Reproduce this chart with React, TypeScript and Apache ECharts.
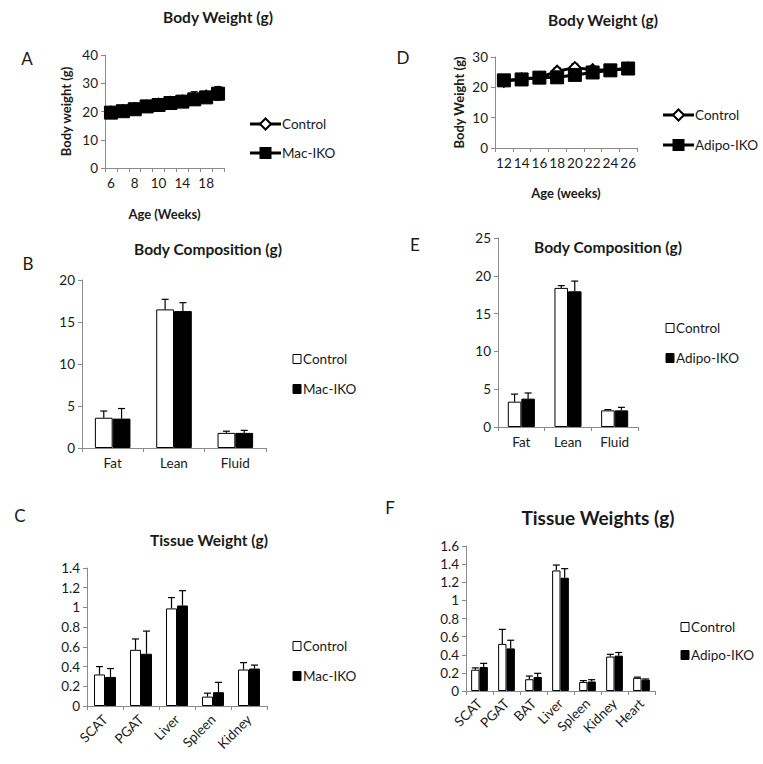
import React, { useEffect, useRef } from "react";
import * as echarts from "echarts";

// ---- Panel A: Body weight, Mac-IKO ----
const weeksA = ["6", "7", "8", "9", "10", "12", "14", "16", "18", "20"];
const ctrlA = [19.8, 20.3, 21.0, 21.9, 22.6, 23.2, 23.7, 24.8, 25.4, 26.8];
const ctrlAErr = [1.0, 1.0, 1.2, 1.2, 1.6, 1.3, 1.2, 2.2, 1.6, 2.0];
const macA = [19.6, 20.1, 20.8, 21.8, 22.3, 23.0, 23.5, 24.3, 25.0, 26.3];
const macAErr = [0.8, 1.0, 1.0, 1.3, 1.2, 1.3, 1.4, 1.8, 1.7, 2.3];

// ---- Panel D: Body weight, Adipo-IKO ----
const weeksD = ["12", "14", "16", "18", "20", "22", "24", "26"];
const ctrlD = [22.0, 22.8, 23.2, 25.3, 26.5, 25.8, 25.6, 26.3];
const ctrlDErr = [1.0, 1.0, 1.0, 1.2, 1.2, 1.0, 1.0, 1.0];
const adipoD = [22.3, 22.6, 23.2, 23.3, 24.1, 24.9, 25.6, 26.2];
const adipoDErr = [1.2, 1.0, 1.0, 1.2, 1.2, 1.0, 1.0, 1.2];

// ---- Panel B: Body composition, Mac-IKO ----
const compCats = ["Fat", "Lean", "Fluid"];
const ctrlB = [3.6, 16.5, 1.8];
const ctrlBErr = [0.8, 1.2, 0.2];
const macB = [3.5, 16.3, 1.8];
const macBErr = [1.2, 1.0, 0.3];

// ---- Panel E: Body composition, Adipo-IKO ----
const ctrlE = [3.35, 18.4, 2.2];
const ctrlEErr = [1.0, 0.3, 0.1];
const adipoE = [3.75, 17.95, 2.2];
const adipoEErr = [0.75, 1.35, 0.4];

// ---- Panel C: Tissue weight, Mac-IKO ----
const tissueC = ["SCAT", "PGAT", "Liver", "Spleen", "Kidney"];
const ctrlC = [0.32, 0.57, 0.99, 0.095, 0.37];
const ctrlCErr = [0.08, 0.11, 0.11, 0.035, 0.07];
const macC = [0.295, 0.53, 1.02, 0.14, 0.38];
const macCErr = [0.085, 0.23, 0.15, 0.1, 0.035];

// ---- Panel F: Tissue weights, Adipo-IKO ----
const tissueF = ["SCAT", "PGAT", "BAT", "Liver", "Spleen", "Kidney", "Heart"];
const ctrlF = [0.235, 0.52, 0.13, 1.33, 0.1, 0.38, 0.145];
const ctrlFErr = [0.02, 0.16, 0.035, 0.06, 0.015, 0.025, 0.008];
const adipoF = [0.265, 0.47, 0.155, 1.25, 0.105, 0.39, 0.125];
const adipoFErr = [0.04, 0.09, 0.04, 0.1, 0.02, 0.035, 0.008];

const FONT = "Lato";
const AXIS_GRAY = "#8a8a8a";
const TXT = "#1a1a1a";
const TICK_FS = 13.5;
const LEG_FS = 13.5;

function errRender(offsetFrac: number, both: boolean) {
  return (params: any, api: any) => {
    const idx = api.value(0);
    const mean = api.value(1);
    const err = api.value(2);
    const band = api.size([1, 0])[0];
    const dx = band * offsetFrac;
    const top = api.coord([idx, mean + err]);
    const mid = api.coord([idx, mean]);
    const bot = api.coord([idx, mean - err]);
    const x = top[0] + dx;
    const cap = 3.5;
    const st = { stroke: "#000", lineWidth: 1.2 };
    const children: any[] = [
      { type: "line", shape: { x1: x, y1: top[1], x2: x, y2: both ? bot[1] : mid[1] }, style: st },
      { type: "line", shape: { x1: x - cap, y1: top[1], x2: x + cap, y2: top[1] }, style: st },
    ];
    if (both) {
      children.push({ type: "line", shape: { x1: x - cap, y1: bot[1], x2: x + cap, y2: bot[1] }, style: st });
    }
    return { type: "group", children };
  };
}

function errData(means: number[], errs: number[]) {
  return means.map((m, i) => [i, m, errs[i]]);
}

function xCat(gridIndex: number, data: string[], extra: any = {}) {
  return {
    type: "category",
    gridIndex,
    data,
    boundaryGap: true,
    axisLine: { lineStyle: { color: AXIS_GRAY, width: 1 } },
    axisTick: { show: true, alignWithLabel: false, interval: 0, length: 4, lineStyle: { color: AXIS_GRAY } },
    axisLabel: { color: TXT, fontSize: TICK_FS, fontFamily: FONT, margin: 8, interval: 0, ...(extra.axisLabel || {}) },
    splitLine: { show: false },
    ...extra.rest,
  };
}

function yVal(gridIndex: number, min: number, max: number, interval: number, extra: any = {}) {
  return {
    type: "value",
    gridIndex,
    min,
    max,
    interval,
    axisLine: { show: true, lineStyle: { color: AXIS_GRAY, width: 1 } },
    axisTick: { show: true, length: 4, lineStyle: { color: AXIS_GRAY } },
    axisLabel: { color: TXT, fontSize: TICK_FS, fontFamily: FONT, margin: 7 },
    splitLine: { show: false },
    ...extra,
  };
}

function lineSeries(name: string, data: number[], idx: number, isCtrl: boolean) {
  return {
    type: "line",
    name,
    xAxisIndex: idx,
    yAxisIndex: idx,
    data,
    z: isCtrl ? 3 : 4,
    showSymbol: true,
    showAllSymbol: true,
    symbol: isCtrl ? "diamond" : "rect",
    symbolSize: isCtrl ? 11 : 13,
    lineStyle: { color: "#000", width: 3 },
    itemStyle: isCtrl ? { color: "#fff", borderColor: "#000", borderWidth: 2 } : { color: "#000", borderColor: "#000" },
  };
}

function barSeries(name: string, data: number[], idx: number, isCtrl: boolean, gap: string) {
  return {
    type: "bar",
    name,
    xAxisIndex: idx,
    yAxisIndex: idx,
    data,
    barGap: "0%",
    barCategoryGap: gap,
    itemStyle: isCtrl ? { color: "#fff", borderColor: "#000", borderWidth: 1 } : { color: "#000", borderColor: "#000", borderWidth: 1 },
    z: 2,
  };
}

function errSeries(means: number[], errs: number[], idx: number, frac: number, both: boolean) {
  return {
    type: "custom",
    xAxisIndex: idx,
    yAxisIndex: idx,
    renderItem: errRender(frac, both),
    encode: { x: 0, y: 1 },
    data: errData(means, errs),
    z: both ? 1 : 3,
    silent: true,
  };
}

function txt(x: number, y: number, text: string, size: number, bold = false, align = "center") {
  return {
    type: "text",
    x,
    y,
    style: { text, fontSize: size, fontFamily: FONT, fontWeight: bold ? "bold" : "normal", fill: TXT, align, verticalAlign: "middle" },
  };
}

function lineLegend(x: number, y: number, label: string, isCtrl: boolean) {
  const items: any[] = [
    { type: "line", shape: { x1: x, y1: y, x2: x + 31, y2: y }, style: { stroke: "#000", lineWidth: 3 } },
  ];
  if (isCtrl) {
    items.push({
      type: "polygon",
      shape: { points: [[x + 15.5, y - 5.5], [x + 21, y], [x + 15.5, y + 5.5], [x + 10, y]] },
      style: { fill: "#fff", stroke: "#000", lineWidth: 2 },
    });
  } else {
    items.push({ type: "rect", shape: { x: x + 9.5, y: y - 6, width: 12, height: 12 }, style: { fill: "#000" } });
  }
  items.push(txt(x + 32, y, label, LEG_FS, false, "left"));
  return items;
}

function boxLegend(x: number, y: number, label: string, isCtrl: boolean) {
  return [
    {
      type: "rect",
      shape: { x, y: y - 4.5, width: 8, height: 9 },
      style: isCtrl ? { fill: "#fff", stroke: "#000", lineWidth: 1 } : { fill: "#000", stroke: "#000", lineWidth: 1 },
    },
    txt(x + 10, y, label, LEG_FS, false, "left"),
  ];
}

export default function App() {
  const ref = useRef<HTMLDivElement>(null);
  useEffect(() => {
    if (!ref.current) return;
    const chart = echarts.init(ref.current, undefined, { renderer: "svg" });
    const nameStyle = { fontSize: 13, fontWeight: "bold", fontFamily: FONT, color: TXT };
    const option: any = {
      animation: false,
      backgroundColor: "#fff",
      grid: [
        { left: 105, top: 55, width: 119, height: 113 }, // A
        { left: 495, top: 57, width: 142, height: 91 }, // D
        { left: 82, top: 280, width: 184, height: 168 }, // B
        { left: 498, top: 238, width: 140, height: 189 }, // E
        { left: 87, top: 568, width: 180, height: 138 }, // C
        { left: 466, top: 546, width: 189, height: 145 }, // F
      ],
      xAxis: [
        xCat(0, weeksA, { axisLabel: { interval: 1 }, rest: { name: "Age (Weeks)", nameLocation: "middle", nameGap: 39, nameTextStyle: nameStyle } }),
        xCat(1, weeksD, { rest: { name: "Age (weeks)", nameLocation: "middle", nameGap: 38, nameTextStyle: nameStyle } }),
        xCat(2, compCats),
        xCat(3, compCats),
        xCat(4, tissueC, { axisLabel: { rotate: 45, margin: 11 } }),
        xCat(5, tissueF, { axisLabel: { rotate: 45, margin: 10 } }),
      ],
      yAxis: [
        yVal(0, 0, 40, 10, { name: "Body weight (g)", nameLocation: "middle", nameGap: 33, nameTextStyle: nameStyle }),
        yVal(1, 0, 30, 10, { name: "Body Weight (g)", nameLocation: "middle", nameGap: 30, nameTextStyle: nameStyle }),
        yVal(2, 0, 20, 5),
        yVal(3, 0, 25, 5),
        yVal(4, 0, 1.4, 0.2),
        yVal(5, 0, 1.6, 0.2),
      ],
      series: [
        errSeries(ctrlA, ctrlAErr, 0, 0, true),
        errSeries(macA, macAErr, 0, 0, true),
        lineSeries("Control", ctrlA, 0, true),
        lineSeries("Mac-IKO", macA, 0, false),

        errSeries(ctrlD, ctrlDErr, 1, 0, true),
        errSeries(adipoD, adipoDErr, 1, 0, true),
        lineSeries("Control", ctrlD, 1, true),
        lineSeries("Adipo-IKO", adipoD, 1, false),

        barSeries("Control", ctrlB, 2, true, "42%"),
        barSeries("Mac-IKO", macB, 2, false, "42%"),
        errSeries(ctrlB, ctrlBErr, 2, -0.145, false),
        errSeries(macB, macBErr, 2, 0.145, false),

        barSeries("Control", ctrlE, 3, true, "42%"),
        barSeries("Adipo-IKO", adipoE, 3, false, "42%"),
        errSeries(ctrlE, ctrlEErr, 3, -0.145, false),
        errSeries(adipoE, adipoEErr, 3, 0.145, false),

        barSeries("Control", ctrlC, 4, true, "39%"),
        barSeries("Mac-IKO", macC, 4, false, "39%"),
        errSeries(ctrlC, ctrlCErr, 4, -0.1525, false),
        errSeries(macC, macCErr, 4, 0.1525, false),

        barSeries("Control", ctrlF, 5, true, "38%"),
        barSeries("Adipo-IKO", adipoF, 5, false, "38%"),
        errSeries(ctrlF, ctrlFErr, 5, -0.155, false),
        errSeries(adipoF, adipoFErr, 5, 0.155, false),
      ],
      graphic: [
        txt(218, 17, "Body Weight (g)", 15.5, true),
        txt(603, 20, "Body Weight (g)", 15.5, true),
        txt(208, 249, "Body Composition (g)", 15.5, true),
        txt(608, 247, "Body Composition (g)", 15.5, true),
        txt(209, 540, "Tissue Weight (g)", 15.5, true),
        txt(598, 517, "Tissue Weights (g)", 19, true),
        txt(27, 58, "A", 17),
        txt(403, 57, "D", 17),
        txt(28, 263, "B", 17),
        txt(415, 244, "E", 17),
        txt(20, 515, "C", 17),
        txt(390, 507, "F", 17),
        ...lineLegend(250, 124, "Control", true),
        ...lineLegend(250, 153, "Mac-IKO", false),
        ...lineLegend(663, 115, "Control", true),
        ...lineLegend(663, 145, "Adipo-IKO", false),
        ...boxLegend(293, 359, "Control", true),
        ...boxLegend(293, 389, "Mac-IKO", false),
        ...boxLegend(666, 328, "Control", true),
        ...boxLegend(666, 358, "Adipo-IKO", false),
        ...boxLegend(293, 646, "Control", true),
        ...boxLegend(293, 676, "Mac-IKO", false),
        ...boxLegend(681, 627, "Control", true),
        ...boxLegend(681, 655, "Adipo-IKO", false),
      ],
    };
    chart.setOption(option);
    return () => chart.dispose();
  }, []);
  return <div ref={ref} style={{ position: "fixed", left: 0, top: 0, width: 763, height: 764 }} />;
}
